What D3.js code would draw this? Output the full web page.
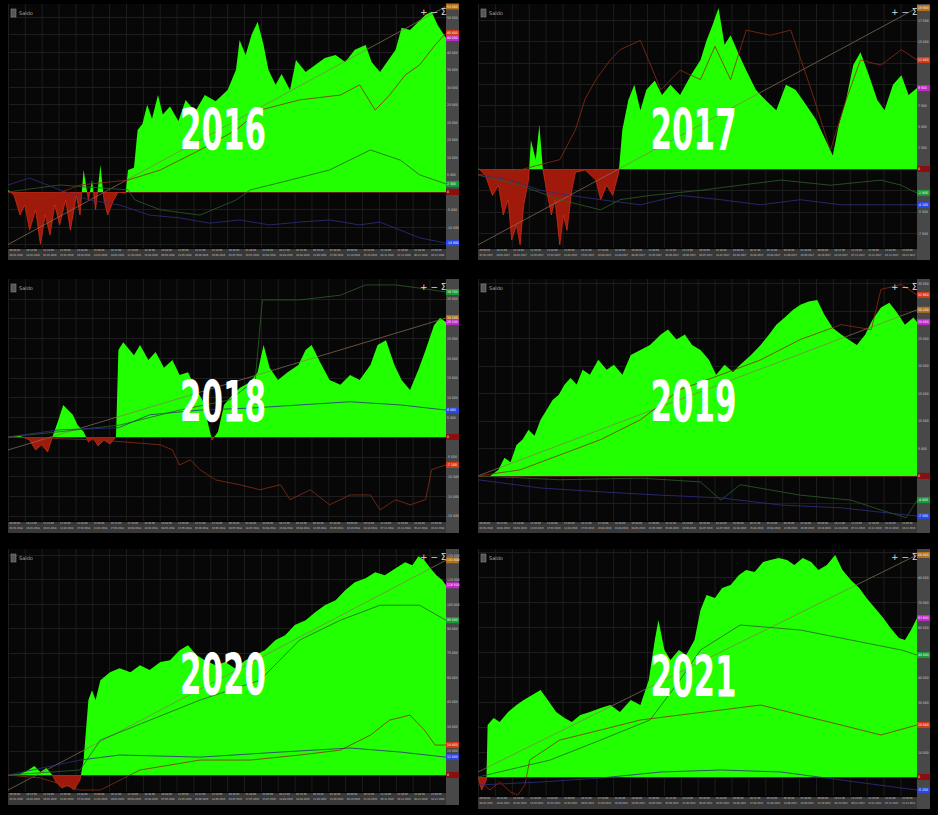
<!DOCTYPE html>
<html>
<head>
<meta charset="utf-8">
<script src="https://cdn.jsdelivr.net/npm/d3@7"></script>
<style>
body { margin: 0; background: #000; }
svg { display: block; }
</style>
</head>
<body>
<svg width="938" height="815"></svg>
<script>
// ---- data (values in account currency, x = day of the year) ----
var years = ["2016", "2017", "2018", "2019", "2020", "2021"];
var startDates = ["2016-01-04", "2017-01-02", "2018-01-02", "2019-01-02", "2020-01-02", "2021-01-04"];
var tickSteps = [5000, 2500, 5000, 5000, 15000, 10000];
var yDomains = [[-16000, 53700], [-9270, 19370], [-21300, 40000], [-8200, 35800], [-10400, 138700], [-7600, 91200]];

var eq2016 = [[0,600],[5,-900],[10,-6600],[14,-3700],[18,-10900],[23,-5100],[27,-14900],[31,-6600],[35,-12300],[39,-3700],[43,-9400],[48,-2300],[52,-10900],[57,-900],[60,-6600],[63,6300],[67,-2300],[70,3400],[73,-5100],[77,7700],[80,-2300],[83,-6600],[88,-2300],[92,0],[98,-300],[100,6300],[105,6900],[108,17700],[112,19400],[116,24900],[120,20900],[125,27700],[129,22100],[135,24400],[142,20300],[148,26300],[156,23000],[164,27700],[173,25900],[183,29100],[190,34900],[193,43400],[198,39100],[203,44900],[208,48600],[213,42000],[217,34900],[223,30600],[228,33700],[235,29100],[240,37700],[248,34300],[256,36300],[264,38300],[273,39100],[281,37100],[289,40600],[298,42000],[303,37100],[310,34300],[317,37700],[323,40600],[328,46900],[335,46300],[342,48600],[348,50600],[353,51500],[358,47700],[365,44000]];
var red2016 = [[0,0],[27,-2300],[60,2000],[100,3400],[127,6300],[160,12000],[190,17700],[210,23400],[243,26300],[277,27700],[293,30600],[306,23400],[318,27700],[331,33400],[343,36300],[356,42000],[365,45400]];
var grn2016 = [[0,0],[43,2000],[100,600],[106,-2300],[127,-5100],[160,-6600],[190,-2300],[202,600],[235,3400],[268,6300],[302,12000],[327,9100],[343,4900],[365,2300]];
var blu2016 = [[0,2000],[18,4000],[43,600],[68,-2300],[93,-3700],[118,-6600],[143,-7400],[168,-8900],[193,-8000],[218,-9400],[243,-8600],[268,-8000],[293,-9400],[310,-8600],[327,-10900],[343,-13100],[365,-14600]];
var trend2016 = [-15000, 53000];

var eq2017 = [[0,100],[6,-700],[12,-3100],[17,-1900],[21,-5400],[25,-3600],[28,-8300],[32,-6600],[35,-8900],[38,-4200],[42,-1300],[44,3400],[48,1100],[51,5200],[54,-100],[57,-2500],[61,-5400],[64,-3600],[68,-8900],[71,-5400],[74,-7200],[78,-2500],[81,-400],[89,-100],[98,-1300],[102,-3600],[107,-1900],[112,-3100],[117,-400],[120,4600],[125,8100],[130,9900],[135,6900],[140,9300],[147,10400],[153,8700],[160,9900],[168,8700],[177,11000],[185,12800],[190,15100],[195,16900],[200,18900],[205,14600],[210,15700],[217,13400],[223,11600],[231,9300],[239,8100],[248,6900],[256,9900],[264,9300],[273,7500],[281,5800],[289,3400],[295,1600],[300,5200],[306,8100],[312,12200],[318,13700],[325,11000],[332,8100],[338,6900],[345,9900],[352,11000],[358,8700],[365,9500]];
var red2017 = [[0,-700],[35,-100],[68,1100],[81,4600],[89,8200],[98,10500],[110,12800],[118,14000],[135,15100],[152,9300],[168,11600],[185,10500],[197,14400],[210,10500],[223,16300],[243,15700],[260,16300],[277,9300],[293,2200],[306,8100],[318,12800],[335,12200],[352,14000],[365,12800]];
var grn2017 = [[0,-700],[35,-1900],[68,-3600],[102,-4800],[118,-3600],[143,-3100],[185,-2500],[218,-1900],[252,-1300],[293,-1900],[335,-1300],[352,-1900],[360,-2500],[365,-2800]];
var blu2017 = [[0,-700],[27,-1300],[52,-2500],[77,-3100],[102,-3600],[135,-4200],[168,-3100],[202,-3600],[235,-4200],[268,-3600],[302,-4200],[335,-4200],[365,-4200]];
var trend2017 = [-8900, 18900];

var eq2018 = [[0,0],[10,300],[18,-800],[23,-3300],[28,-2000],[33,-3800],[37,0],[42,4300],[46,8100],[50,6800],[54,5600],[58,3000],[63,1300],[67,-1300],[71,-300],[75,-2300],[80,-800],[85,-1800],[90,0],[92,22000],[96,24000],[100,22500],[105,20700],[110,23300],[117,19500],[123,21500],[130,17500],[137,19500],[143,15700],[150,16400],[157,11900],[162,9400],[166,4300],[170,-800],[175,1300],[180,8100],[187,10600],[193,12400],[202,13900],[208,16400],[213,23300],[218,17500],[225,14400],[233,16400],[242,18200],[248,22000],[253,23300],[260,19000],[268,14400],[277,13200],[285,15700],[293,14400],[302,18200],[308,23300],[315,24500],[322,18200],[328,14400],[335,11900],[342,17000],[348,22000],[355,28300],[360,30100],[365,29100]];
var red2018 = [[0,0],[77,-800],[127,-2000],[137,-3300],[143,-7100],[152,-5800],[160,-8300],[173,-10900],[193,-12100],[210,-13400],[227,-12100],[235,-15900],[252,-13400],[268,-17200],[285,-14700],[302,-14700],[310,-18500],[323,-15900],[335,-17200],[348,-15900],[353,-8300],[365,-7100]];
var grn2018 = [[0,0],[43,1300],[93,3000],[143,6800],[185,9400],[206,14400],[212,34700],[243,34700],[277,35900],[298,38500],[323,38500],[343,37700],[365,36700]];
var blu2018 = [[0,0],[43,1800],[92,2300],[118,5600],[160,6800],[202,7300],[243,8100],[285,8900],[327,8100],[365,6800]];
var trend2018 = [-3300, 30100];

var eq2019 = [[0,0],[10,0],[17,1100],[22,3300],[27,2500],[32,5600],[37,6600],[42,8400],[47,7300],[52,10200],[57,12000],[62,13800],[67,14700],[72,16600],[77,17800],[82,16600],[87,19300],[93,18400],[100,21100],[107,19300],[113,20200],[120,18400],[127,22000],[135,22900],[143,23800],[152,25700],[158,26600],[165,24800],[172,25700],[178,23800],[185,22900],[192,21100],[198,18400],[205,20200],[212,18900],[218,20200],[227,22000],[235,23800],[242,25700],[248,27500],[255,28800],[262,30200],[268,31100],[275,31700],[282,32000],[288,29300],[295,26900],[302,25700],[308,24800],[315,23800],[322,25700],[328,28400],[335,30600],[342,31500],[348,29800],[355,27500],[362,28800],[365,28000]];
var red2019 = [[0,0],[35,1100],[68,3800],[102,6600],[135,10200],[168,15700],[202,18400],[235,21100],[268,24800],[302,27500],[327,26600],[335,33900],[352,34800],[365,32900]];
var grn2019 = [[0,0],[68,-700],[135,-400],[185,-1100],[202,-4400],[218,-1600],[268,-3500],[310,-4400],[335,-6200],[356,-7600],[365,-4400]];
var blu2019 = [[0,-700],[52,-2200],[102,-2900],[152,-3500],[202,-4000],[252,-5300],[302,-5800],[335,-6600],[365,-7300]];
var trend2019 = [0, 30200];

var eq2020 = [[0,0],[10,600],[17,3100],[22,5500],[27,1800],[32,4300],[37,0],[40,-4300],[45,-8000],[50,-6100],[55,-9200],[60,-3100],[63,9200],[67,46000],[70,52100],[73,46000],[77,58200],[85,63100],[93,65600],[102,63100],[110,67400],[118,64400],[127,69300],[135,70500],[143,76600],[150,79700],[157,73600],[164,70500],[173,67400],[181,69300],[189,65600],[198,70500],[206,73600],[214,76600],[223,82800],[231,85800],[239,92000],[248,95000],[256,99900],[264,104200],[273,107300],[281,113400],[289,118300],[298,120800],[306,124400],[314,122600],[323,126900],[331,130600],[337,128700],[342,134200],[347,131800],[352,126900],[357,122600],[362,119500],[365,116500]];
var red2020 = [[0,0],[27,-1800],[60,-9200],[77,-9200],[110,3100],[160,9200],[202,9200],[243,12300],[277,15300],[302,24500],[318,33700],[335,36800],[347,27600],[356,18400],[365,18400]];
var grn2020 = [[0,0],[60,3100],[77,21500],[160,46000],[210,58200],[243,82800],[277,95000],[310,104200],[343,104200],[365,95000]];
var blu2020 = [[0,0],[60,9200],[93,12300],[160,11000],[227,14100],[285,16600],[327,14100],[365,11000]];
var trend2020 = [-9200, 131800];

var eq2021 = [[0,0],[3,-5200],[7,-1200],[8,20800],[13,23600],[18,22000],[25,26000],[32,28800],[38,30800],[45,32800],[52,34800],[58,30800],[65,26000],[72,23600],[78,22000],[85,24800],[93,26000],[102,27600],[110,28800],[118,26000],[127,30800],[135,28800],[142,38800],[147,54800],[150,62800],[155,50800],[160,46800],[167,50800],[173,48800],[180,54800],[185,66800],[190,72800],[197,71600],[203,75600],[210,76800],[217,80800],[223,82800],[230,82000],[237,86000],[243,86800],[250,87600],[257,86800],[263,84800],[270,87600],[277,86000],[283,82800],[290,84800],[297,88800],[303,82800],[310,78800],[317,75600],[323,71600],[330,67600],[337,63600],[343,59600],[350,55600],[355,54800],[360,58800],[365,63600]];
var red2021 = [[0,-1200],[10,-5200],[18,-2000],[27,-6000],[33,-7200],[39,-3200],[43,6800],[68,14800],[102,18800],[135,22800],[168,24800],[202,26800],[235,28800],[268,24800],[302,20800],[335,16800],[365,20800]];
var grn2021 = [[0,0],[60,6800],[102,14800],[143,22800],[168,38800],[185,50800],[218,60800],[268,58800],[310,54800],[352,50800],[365,48800]];
var blu2021 = [[0,-3200],[52,-2000],[102,-400],[152,2000],[202,2800],[252,2000],[302,-1200],[352,-4400],[365,-5200]];
var trend2021 = [2000, 88800];

var equity = [eq2016, eq2017, eq2018, eq2019, eq2020, eq2021];
var redLines = [red2016, red2017, red2018, red2019, red2020, red2021];
var greenLines = [grn2016, grn2017, grn2018, grn2019, grn2020, grn2021];
var blueLines = [blu2016, blu2017, blu2018, blu2019, blu2020, blu2021];
var trends = [trend2016, trend2017, trend2018, trend2019, trend2020, trend2021];

// ---- layout ----
var boxes = [
  {x: 8, y: 4, w: 438, h: 244, band: 12, textY: 150},
  {x: 478, y: 4, w: 439, h: 244, band: 12, textY: 150},
  {x: 8, y: 279, w: 438, h: 242, band: 12, textY: 422},
  {x: 478, y: 279, w: 439, h: 242, band: 12, textY: 422},
  {x: 8, y: 549, w: 438, h: 243, band: 13, textY: 695},
  {x: 478, y: 549, w: 439, h: 247, band: 13, textY: 697}
];

var svg = d3.select("svg");
var defs = svg.append("defs");
svg.append("rect").attr("width", 938).attr("height", 815).attr("fill", "#000");

var numFmt = function(v) { return d3.format(",")(v).replace(/,/g, " ").replace("−", "-"); };
var dayFmt = d3.timeFormat("%d.%m.%Y");
var hourFmt = d3.timeFormat("%H:%M:%S");
var tinyFont = "DejaVu Sans Condensed, DejaVu Sans";

function drawPanel(i) {
  var box = boxes[i];
  var g = svg.append("g");
  var x = d3.scaleLinear().domain([0, 365]).range([box.x, box.x + box.w]);
  var y = d3.scaleLinear().domain(yDomains[i]).range([box.y + box.h, box.y]);
  var start = new Date(startDates[i] + "T09:00:00");
  var toDate = function(d) { return new Date(start.getTime() + d * 86400000); };

  g.append("rect")
    .attr("x", box.x).attr("y", box.y)
    .attr("width", box.w).attr("height", box.h)
    .attr("fill", "#070707");

  // grid
  var xt = d3.range(0, 362, 14.05);
  var step = tickSteps[i];
  var yt = d3.range(Math.ceil(yDomains[i][0] / step) * step, yDomains[i][1], step);
  g.selectAll(".vg").data(xt).enter().append("line")
    .attr("x1", function(d) { return x(d) + 0.5; }).attr("x2", function(d) { return x(d) + 0.5; })
    .attr("y1", box.y).attr("y2", box.y + box.h)
    .attr("stroke", "#1d1d1d").attr("stroke-width", 1);
  g.selectAll(".hg").data(yt).enter().append("line")
    .attr("x1", box.x).attr("x2", box.x + box.w)
    .attr("y1", function(d) { return Math.round(y(d)) + 0.5; }).attr("y2", function(d) { return Math.round(y(d)) + 0.5; })
    .attr("stroke", "#1d1d1d").attr("stroke-width", 1);

  // equity area, green above zero, red below
  defs.append("clipPath").attr("id", "pos" + i).append("rect")
    .attr("x", box.x).attr("y", box.y).attr("width", box.w).attr("height", y(0) - box.y);
  defs.append("clipPath").attr("id", "neg" + i).append("rect")
    .attr("x", box.x).attr("y", y(0)).attr("width", box.w).attr("height", box.y + box.h - y(0));

  var area = d3.area()
    .x(function(d) { return x(d[0]); })
    .y0(y(0))
    .y1(function(d) { return y(d[1]); });

  g.append("path").datum(equity[i])
    .attr("d", area).attr("fill", "#22ff00")
    .attr("clip-path", "url(#pos" + i + ")");
  g.append("path").datum(equity[i])
    .attr("d", area).attr("fill", "#a01a0c")
    .attr("stroke", "#d8301a").attr("stroke-width", 0.7)
    .attr("clip-path", "url(#neg" + i + ")");

  var line = d3.line()
    .x(function(d) { return x(d[0]); })
    .y(function(d) { return y(d[1]); });

  // trend line
  g.append("path").datum([[0, trends[i][0]], [365, trends[i][1]]])
    .attr("d", line).attr("fill", "none")
    .attr("stroke", "#8e745c").attr("stroke-width", 0.7);

  g.append("path").datum(greenLines[i])
    .attr("d", line).attr("fill", "none")
    .attr("stroke", "#2a5e2a").attr("stroke-width", 0.8);
  g.append("path").datum(blueLines[i])
    .attr("d", line).attr("fill", "none")
    .attr("stroke", "#2e2e80").attr("stroke-width", 0.8);
  g.append("path").datum(redLines[i])
    .attr("d", line).attr("fill", "none")
    .attr("stroke", "#8a2c12").attr("stroke-width", 0.8);

  // right axis strip
  var rx = box.x + box.w;
  g.append("rect")
    .attr("x", rx).attr("y", box.y)
    .attr("width", 13).attr("height", box.h + box.band)
    .attr("fill", "#484848");

  var last = function(a) { return a[a.length - 1][1]; };
  var tags = [
    {v: trends[i][1], c: "#b0701c"},
    {v: last(redLines[i]), c: "#d03c18"},
    {v: last(equity[i]), c: "#c028c8"},
    {v: last(greenLines[i]), c: "#1c9a36"},
    {v: last(blueLines[i]), c: "#2a48e0"},
    {v: 0, c: "#8c0e0e"}
  ];
  // tick labels that the tags cover are not shown
  var shown = yt.filter(function(t) {
    return tags.every(function(d) { return Math.abs(y(t) - y(d.v)) > 5; });
  });
  var ra = g.append("g")
    .attr("transform", "translate(" + (rx + 1) + ",0)")
    .call(d3.axisRight(y).tickValues(shown).tickSize(0).tickPadding(0).tickFormat(numFmt));
  ra.select(".domain").remove();
  ra.selectAll("text").attr("fill", "#cfcfcf").attr("font-size", 3.4).attr("font-family", tinyFont);

  var tg = g.selectAll(".tag").data(tags).enter().append("g")
    .attr("transform", function(d) { return "translate(" + rx + "," + y(d.v) + ")"; });
  tg.append("rect").attr("x", 0).attr("y", -3).attr("width", 13).attr("height", 6)
    .attr("fill", function(d) { return d.c; });
  tg.append("text").attr("x", 1).attr("y", 1.2)
    .attr("font-size", 3.4).attr("font-family", tinyFont).attr("fill", "#fff")
    .text(function(d) { return numFmt(Math.round(d.v)); });

  // bottom axis band: two rows, time and date
  var by = box.y + box.h;
  g.append("rect")
    .attr("x", box.x).attr("y", by + 1)
    .attr("width", box.w).attr("height", box.band - 1)
    .attr("fill", "#383838");
  var ta = g.append("g").attr("transform", "translate(0," + (by + 1.5) + ")")
    .call(d3.axisBottom(x).tickValues(xt).tickSize(0).tickPadding(0)
      .tickFormat(function(d) { return hourFmt(toDate(d)); }));
  var da = g.append("g").attr("transform", "translate(0," + (by + 6.5) + ")")
    .call(d3.axisBottom(x).tickValues(xt).tickSize(0).tickPadding(0)
      .tickFormat(function(d) { return dayFmt(toDate(d)); }));
  [ta, da].forEach(function(a) {
    a.select(".domain").remove();
    a.selectAll("text").attr("fill", "#cfcfcf").attr("font-size", 2.6)
      .attr("font-family", tinyFont).attr("text-anchor", "start")
      .attr("dx", 1);
  });

  // header
  g.append("rect").attr("x", box.x + 3).attr("y", box.y + 5).attr("width", 5).attr("height", 8)
    .attr("fill", "#555").attr("stroke", "#888").attr("stroke-width", 0.6);
  g.append("text").attr("x", box.x + 11).attr("y", box.y + 11)
    .attr("font-size", 5).attr("font-family", "DejaVu Sans").attr("fill", "#aaa")
    .text("Saldo");
  g.append("text").attr("x", box.x + box.w - 26).attr("y", box.y + 11)
    .attr("font-size", 9).attr("font-family", "DejaVu Sans").attr("fill", "#ddd")
    .text("+ − Σ");

  // year
  g.append("text")
    .attr("x", box.x + box.w / 2 - 4).attr("y", box.textY)
    .attr("text-anchor", "middle")
    .attr("font-family", "DejaVu Sans Condensed, DejaVu Sans")
    .attr("font-weight", "bold").attr("font-size", 57)
    .attr("textLength", 86).attr("lengthAdjust", "spacingAndGlyphs")
    .attr("fill", "#fff")
    .text(years[i]);
}

for (var i = 0; i < 6; i++) drawPanel(i);
</script>
</body>
</html>
